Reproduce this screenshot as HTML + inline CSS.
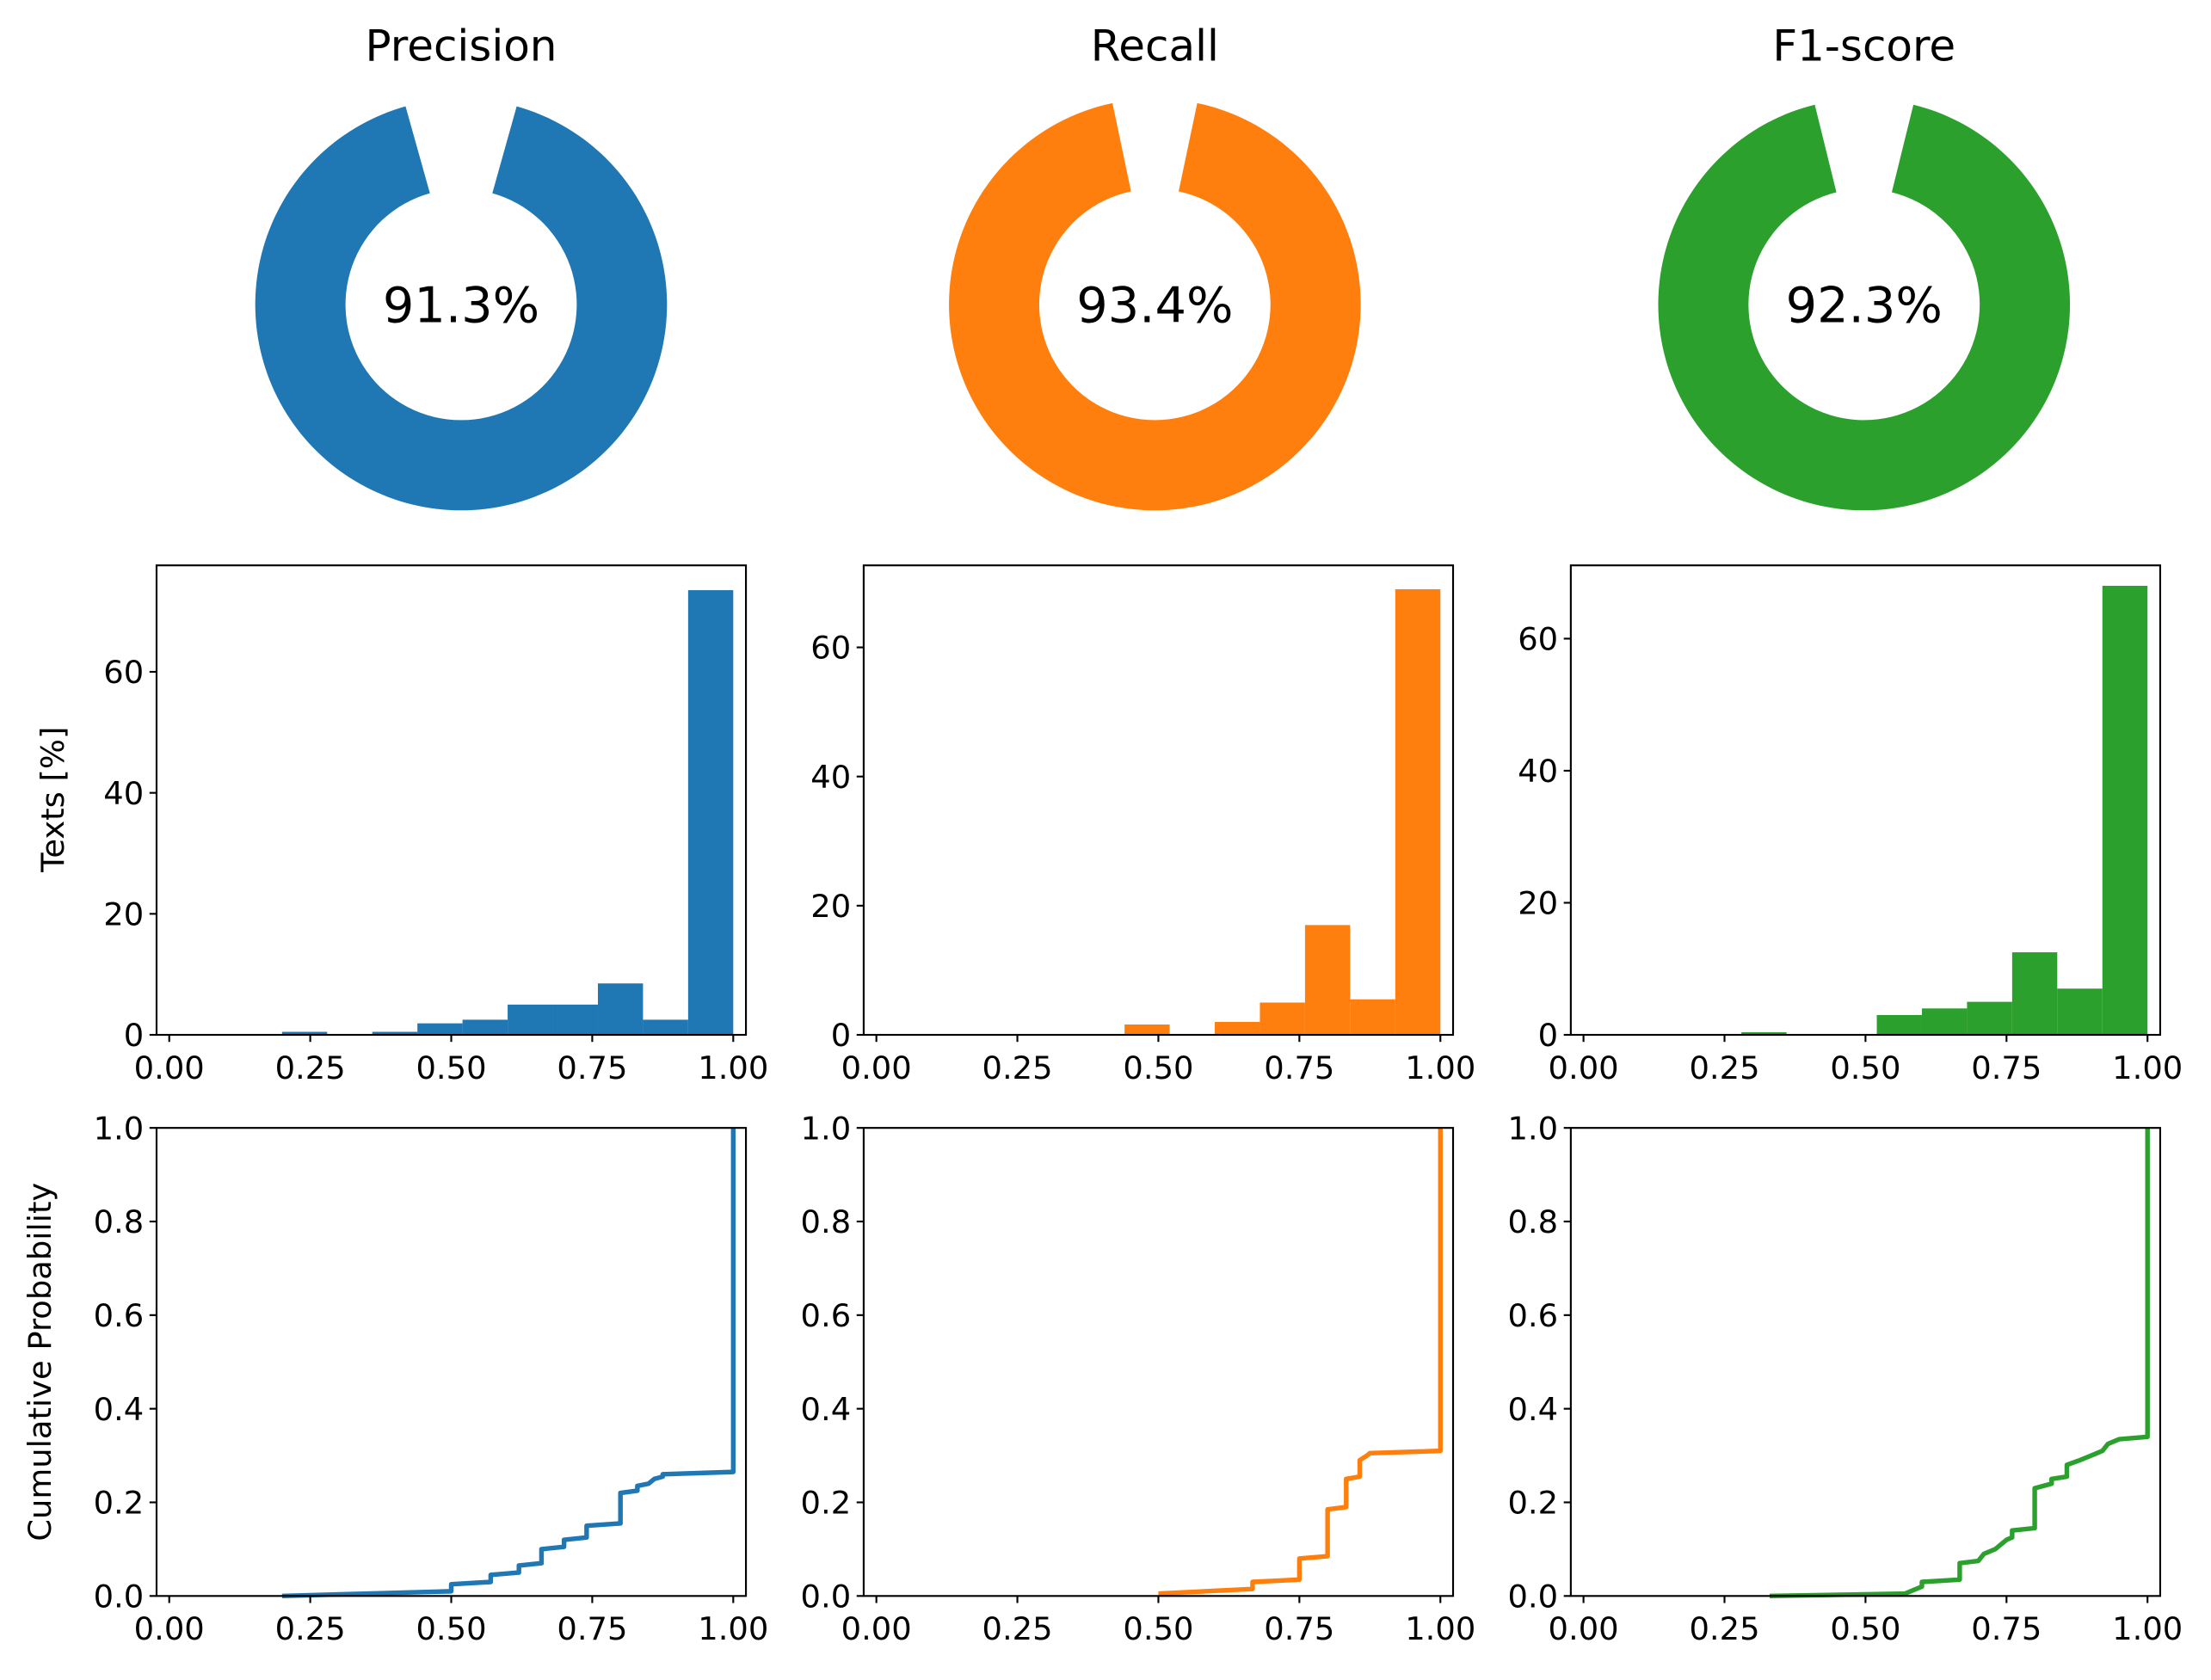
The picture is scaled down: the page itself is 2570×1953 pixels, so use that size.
<!DOCTYPE html>
<html><head><meta charset="utf-8"><style>
html,body{margin:0;padding:0;background:#fff;}
svg{display:block;font-family:"DejaVu Sans","Liberation Sans",sans-serif;}
</style></head><body>
<svg id="fig" width="2570" height="1953" viewBox="0 0 1568 1191.6" xmlns="http://www.w3.org/2000/svg"></svg>
<script>
const metricNames = ["Precision", "Recall", "F1-score"];
const metricValues = [91.3, 93.4, 92.3];
const colors = ["#1f77b4", "#ff7f0e", "#2ca02c"];
const binEdges = [0.2, 0.28, 0.36, 0.44, 0.52, 0.6, 0.68, 0.76, 0.84, 0.92, 1.0];
const histPrecision = [0.5, 0, 0.5, 1.9, 2.5, 5, 5, 8.5, 2.5, 73.5];
const histRecall = [0, 0, 0, 1.6, 0, 2, 5, 17, 5.5, 69];
const histF1 = [0, 0.4, 0, 0, 3, 4, 5, 12.5, 7, 68];
const histYMax = [77.6, 72.7, 71.1];
const histYTicks = [0, 20, 40, 60];
const xTicks = [0, 0.25, 0.5, 0.75, 1.0];
const xTickLabels = ["0.00", "0.25", "0.50", "0.75", "1.00"];
const cdfYTicks = [0, 0.2, 0.4, 0.6, 0.8, 1.0];
const cdfYTickLabels = ["0.0", "0.2", "0.4", "0.6", "0.8", "1.0"];
const cdfPrecisionX = [0.2, 0.5, 0.5, 0.57, 0.57, 0.62, 0.62, 0.66, 0.66, 0.70, 0.70, 0.74, 0.74, 0.80, 0.80, 0.83, 0.83, 0.85, 0.86, 0.875, 0.875, 1.0, 1.0];
const cdfPrecisionY = [0, 0.01, 0.025, 0.03, 0.045, 0.05, 0.065, 0.07, 0.10, 0.105, 0.12, 0.125, 0.15, 0.155, 0.22, 0.225, 0.235, 0.24, 0.25, 0.255, 0.26, 0.265, 1.0];
const cdfRecallX = [0.5, 0.667, 0.667, 0.75, 0.75, 0.8, 0.8, 0.833, 0.833, 0.857, 0.857, 0.87, 0.875, 1.0, 1.0];
const cdfRecallY = [0.005, 0.015, 0.03, 0.035, 0.08, 0.085, 0.185, 0.19, 0.25, 0.255, 0.29, 0.3, 0.305, 0.31, 1.0];
const cdfF1X = [0.33, 0.57, 0.6, 0.6, 0.667, 0.667, 0.7, 0.71, 0.73, 0.74, 0.75, 0.76, 0.76, 0.8, 0.8, 0.83, 0.83, 0.857, 0.857, 0.88, 0.9, 0.92, 0.93, 0.95, 1.0, 1.0];
const cdfF1Y = [0, 0.005, 0.02, 0.03, 0.035, 0.07, 0.075, 0.09, 0.1, 0.11, 0.12, 0.125, 0.14, 0.145, 0.23, 0.24, 0.25, 0.255, 0.28, 0.29, 0.3, 0.31, 0.325, 0.335, 0.34, 1.0];

const hists = [histPrecision, histRecall, histF1];
const cdfX = [cdfPrecisionX, cdfRecallX, cdfF1X];
const cdfY = [cdfPrecisionY, cdfRecallY, cdfF1Y];
const NS = "http://www.w3.org/2000/svg";
const svg = document.getElementById("fig");
function mk(tag, attrs, parent) {
  const e = document.createElementNS(NS, tag);
  for (const k in attrs) e.setAttribute(k, attrs[k]);
  (parent || svg).appendChild(e);
  return e;
}
const TICK_FS = 22.5;
const colLeft = [111, 612.5, 1114];
const axW = 418;
const donutCX = [327, 819, 1322];
const donutCY = 216, rOut = 146, rIn = 82;

for (let c = 0; c < 3; c++) {
  const g = mk("g", {});
  
  
  const t = mk("text", {x: donutCX[c], y: 43, "font-size": 30.5, "text-anchor": "middle", fill: "#000"}, g);
  t.textContent = metricNames[c];
  
  
  const frac = metricValues[c] / 100;
  const gap = (1 - frac) * 2 * Math.PI;
  const a0 = gap / 2, a1 = 2 * Math.PI - gap / 2;
  const pt = (r, a) => [donutCX[c] + r * Math.sin(a), donutCY - r * Math.cos(a)];
  const p1 = pt(rOut, a0), p2 = pt(rOut, a1), p3 = pt(rIn, a1), p4 = pt(rIn, a0);
  const large = (a1 - a0) > Math.PI ? 1 : 0;
  const d = `M${p1} A${rOut},${rOut} 0 ${large} 1 ${p2} L${p3} A${rIn},${rIn} 0 ${large} 0 ${p4} Z`;
  const donut = mk("path", {d: d, fill: colors[c]}, g);
  
  
  const vt = mk("text", {x: donutCX[c], y: donutCY + 12.5, "font-size": 35, "text-anchor": "middle", fill: "#000"}, g);
  vt.textContent = metricValues[c].toFixed(1) + "%";
  
  

  const L = colLeft[c];
  const xs = v => L + (v + 0.0225) / 1.045 * axW;

  const hTop = 401, hBot = 734;
  const ys = v => hBot - v / histYMax[c] * (hBot - hTop);
  const hg = mk("g", {}, g);
  
  
  hists[c].forEach((v, i) => {
    if (v <= 0) return;
    const r = mk("rect", {x: xs(binEdges[i]), y: ys(v), width: xs(binEdges[i + 1]) - xs(binEdges[i]), height: hBot - ys(v), fill: colors[c]}, hg);
    
    
  });
  mk("rect", {x: L, y: hTop, width: axW, height: hBot - hTop, fill: "none", stroke: "#000", "stroke-width": 1.3}, hg);
  histYTicks.forEach(v => {
    mk("line", {x1: L - 5, x2: L, y1: ys(v), y2: ys(v), stroke: "#000", "stroke-width": 1.3}, hg);
    const tl = mk("text", {x: L - 9, y: ys(v) + 8, "font-size": TICK_FS, "text-anchor": "end"}, hg);
    tl.textContent = v;
    
    
  });
  xTicks.forEach((v, i) => {
    mk("line", {x1: xs(v), x2: xs(v), y1: hBot, y2: hBot + 5, stroke: "#000", "stroke-width": 1.3}, hg);
    const tl = mk("text", {x: xs(v), y: hBot + 31, "font-size": TICK_FS, "text-anchor": "middle"}, hg);
    tl.textContent = xTickLabels[i];
    
    
  });

  const cTop = 800, cBot = 1132;
  const yc = v => cBot - v * (cBot - cTop);
  const cg = mk("g", {}, g);
  
  
  let pd = "";
  cdfX[c].forEach((x, i) => { pd += (i ? "L" : "M") + xs(x).toFixed(2) + "," + yc(cdfY[c][i]).toFixed(2); });
  const line = mk("path", {d: pd, fill: "none", stroke: colors[c], "stroke-width": 3.3, "stroke-linejoin": "round"}, cg);
  
  
  mk("rect", {x: L, y: cTop, width: axW, height: cBot - cTop, fill: "none", stroke: "#000", "stroke-width": 1.3}, cg);
  cdfYTicks.forEach((v, i) => {
    mk("line", {x1: L - 5, x2: L, y1: yc(v), y2: yc(v), stroke: "#000", "stroke-width": 1.3}, cg);
    const tl = mk("text", {x: L - 9, y: yc(v) + 8, "font-size": TICK_FS, "text-anchor": "end"}, cg);
    tl.textContent = cdfYTickLabels[i];
    
    
  });
  xTicks.forEach((v, i) => {
    mk("line", {x1: xs(v), x2: xs(v), y1: cBot, y2: cBot + 5, stroke: "#000", "stroke-width": 1.3}, cg);
    const tl = mk("text", {x: xs(v), y: cBot + 31, "font-size": TICK_FS, "text-anchor": "middle"}, cg);
    tl.textContent = xTickLabels[i];
    
    
  });
}
const yl1 = mk("text", {x: 0, y: 0, "font-size": TICK_FS, "text-anchor": "middle", transform: "translate(45,567) rotate(-90)"});
yl1.textContent = "Texts [%]";


const yl2 = mk("text", {x: 0, y: 0, "font-size": TICK_FS, "text-anchor": "middle", transform: "translate(36,966) rotate(-90)"});
yl2.textContent = "Cumulative Probability";


</script>
</body></html>
